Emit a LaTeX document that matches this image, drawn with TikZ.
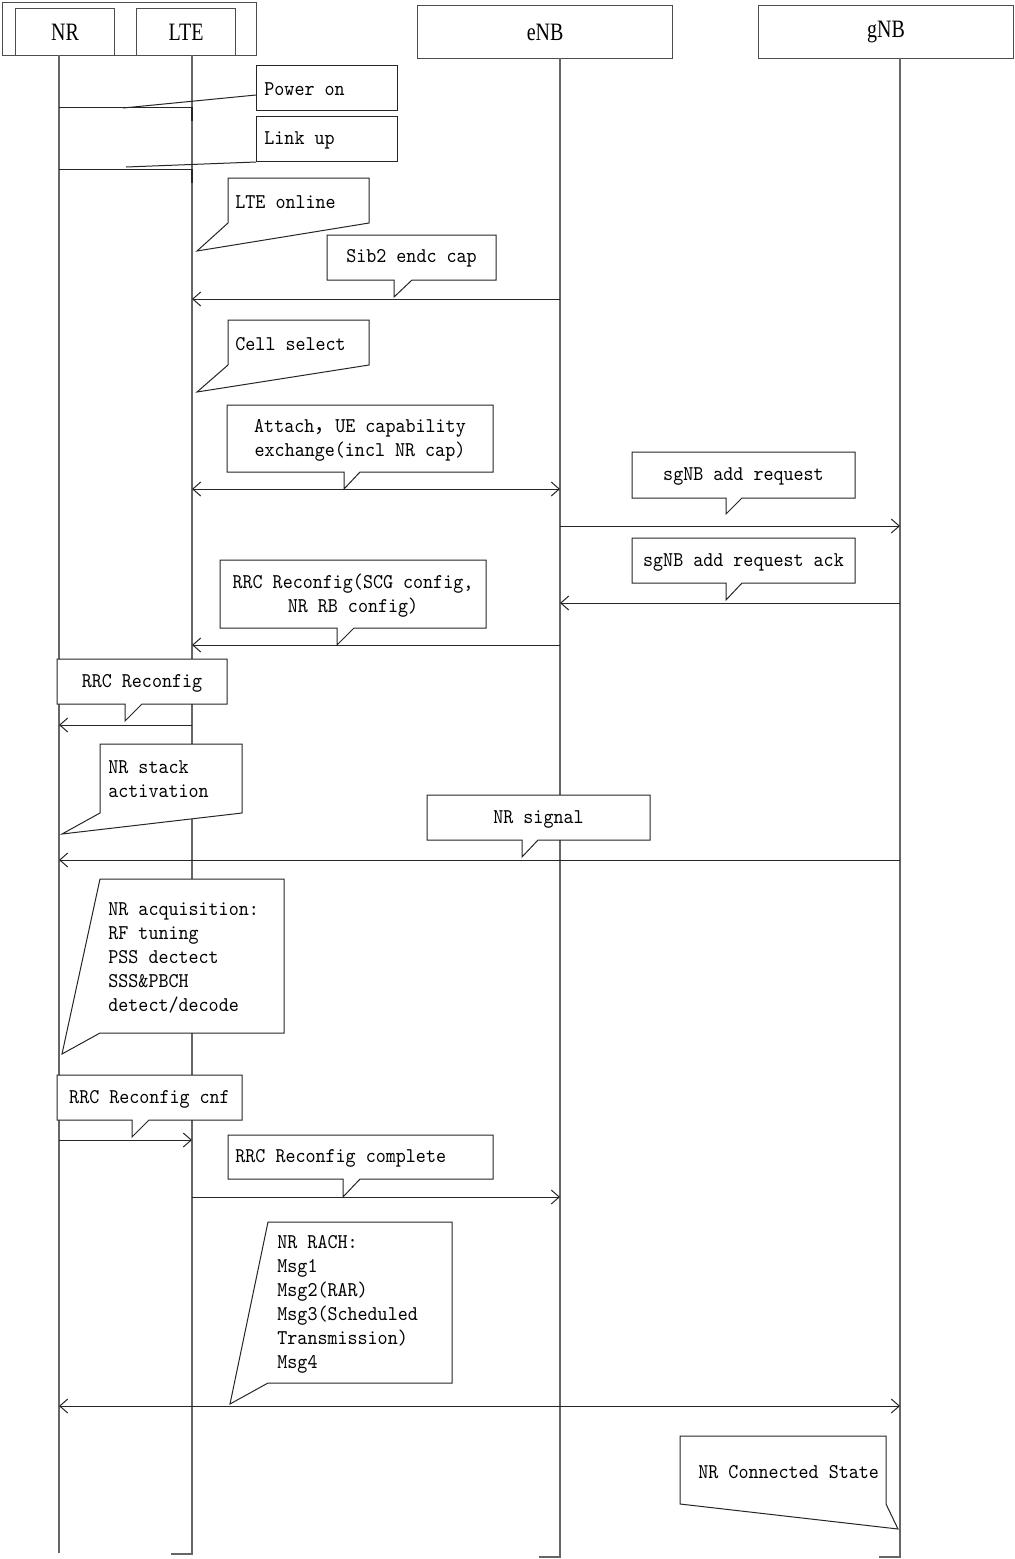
\documentclass[tikz,border=0pt]{standalone}
\usepackage{fontspec}
\usetikzlibrary{arrows.meta}
\newfontfamily\notefont{lmmono10-regular.otf}[FakeStretch=0.91]
\newfontfamily\hdrfont{Liberation Serif}[FakeStretch=0.8]
\newfontfamily\cjk{Noto Sans CJK SC}
\tikzset{
  life/.style={draw=black!60, line width=0.75pt},
  msg/.style={draw=black!85, line width=0.5pt},
  arr/.style={msg, -{Straight Barb[length=4pt,width=7pt]}},
  darr/.style={msg, {Straight Barb[length=4pt,width=7pt]}-{Straight Barb[length=4pt,width=7pt]}},
  call/.style={draw=black!85, fill=white, line width=0.5pt, line join=miter},
  rbox/.style={draw=black!85, fill=white, line width=0.5pt, inner sep=0pt, anchor=north west},
  txt/.style={font=\notefont\fontsize{10.5}{12}\selectfont, inner sep=0pt, text=black, yshift=-0.8pt},
  hdr/.style={draw=black!70, line width=0.6pt, inner sep=0pt, anchor=north west,
    font=\hdrfont\fontsize{12.5}{14}\selectfont}
}
\begin{document}
\begin{tikzpicture}[x=0.5pt,y=-0.5pt]
\useasboundingbox (0,0) rectangle (1014,1559);
% headers
\node[hdr, minimum width=127pt, minimum height=26.5pt] (grp) at (2,2) {};
\node[hdr, minimum width=49.5pt, minimum height=23.5pt] (hNR) at (15,8) {NR};
\node[hdr, minimum width=49.5pt, minimum height=23.5pt] (hLTE) at (136,8) {LTE};
\node[hdr, minimum width=127.5pt, minimum height=26.5pt] (heNB) at (417,5) {eNB};
\node[hdr, minimum width=127.5pt, minimum height=26.5pt] (hgNB) at (758,5) {gNB};
% lifelines
\coordinate (tNR) at (59,55);   \coordinate (bNR) at (59,1553);
\coordinate (tLTE) at (192,55); \coordinate (bLTE) at (192,1554);
\coordinate (teNB) at (560,58); \coordinate (beNB) at (560,1557);
\coordinate (tgNB) at (900,58); \coordinate (bgNB) at (900,1557);
\draw[life] (tNR) -- (bNR);
\draw[life] (tLTE) -- (bLTE) -- ++(-21,0);
\draw[life] (teNB) -- (beNB) -- ++(-21,0);
\draw[life] (tgNB) -- (bgNB) -- ++(-21,0);

% Power on / Link up
\draw[msg] (tNR |- 0,107) -- (tLTE |- 0,107);
\draw[draw=black!85, line width=0.9pt] (tLTE |- 0,107) -- (tLTE |- 0,121);
\node[rbox, minimum width=70.5pt, minimum height=22.5pt] (pwr) at (256,65) {};
\node[txt, anchor=west] (pwrT) at (264,88) {Power on};
\coordinate (pwrE) at (123,108);
\draw[msg] ([yshift=-3.5pt]pwr.west) -- (pwrE);

\draw[msg] (tNR |- 0,169) -- (tLTE |- 0,169);
\draw[draw=black!85, line width=0.9pt] (tLTE |- 0,169) -- (tLTE |- 0,183);
\node[rbox, minimum width=70.5pt, minimum height=22.5pt] (lnk) at (256,116) {};
\node[txt, anchor=west] (lnkT) at (264,139) {Link up};
\coordinate (lnkE) at (126,167);
\draw[msg] (lnk.south west) -- (lnkE);

% LTE online
\draw[call] (228,178) -- (369,178) -- (369,223) -- (197,251) -- (228,223) -- cycle;
\node[txt, anchor=west] (lteon) at (235,201) {LTE online};

% Sib2
\draw[call] (327,235) -- (496,235) -- (496,280) -- (412,280) -- (394,297) -- (394,280) -- (327,280) -- cycle;
\node[txt] (sib) at (411.5,257) {Sib2 endc cap};
\draw[arr] (teNB |- 0,299) -- (tLTE |- 0,299);

% Cell select
\draw[call] (228,320) -- (369,320) -- (369,365) -- (197,392) -- (228,365) -- cycle;
\node[txt, anchor=west] (cell) at (235,342) {Cell select};

% Attach
\draw[call] (227,405) -- (493,405) -- (493,472) -- (360,472) -- (344,489) -- (344,472) -- (227,472) -- cycle;
\node[txt, align=center] (att) at (360,438.5) {Attach{\cjk ，}UE capability\\exchange(incl NR cap)};
\draw[darr] (tLTE |- 0,489) -- (teNB |- 0,489);

% sgNB add request
\draw[call] (632,452) -- (855,452) -- (855,498) -- (742,498) -- (726,514) -- (726,498) -- (632,498) -- cycle;
\node[txt] (sgr) at (743.5,475) {sgNB add request};
\draw[arr] (teNB |- 0,526) -- (tgNB |- 0,526);

% sgNB add request ack
\draw[call] (632,538) -- (855,538) -- (855,583) -- (742,583) -- (726,600) -- (726,583) -- (632,583) -- cycle;
\node[txt] (sga) at (743.5,561) {sgNB add request ack};
\draw[arr] (tgNB |- 0,603) -- (teNB |- 0,603);

% RRC Reconfig (SCG)
\draw[call] (220,560) -- (486,560) -- (486,628) -- (354,628) -- (337,645) -- (337,628) -- (220,628) -- cycle;
\node[txt, align=center] (rrc1) at (353,594) {RRC Reconfig(SCG config,\\NR RB config)};
\draw[arr] (teNB |- 0,645) -- (tLTE |- 0,645);

% RRC Reconfig
\draw[call] (57,659) -- (227,659) -- (227,704) -- (142,704) -- (125,721) -- (125,704) -- (57,704) -- cycle;
\node[txt] (rrc2) at (142,682) {RRC Reconfig};
\draw[arr] (tLTE |- 0,725) -- (tNR |- 0,725);

% NR stack activation
\draw[call] (100,744) -- (242,744) -- (242,813) -- (62,834) -- (100,813) -- cycle;
\node[txt, anchor=west, align=left] (stk) at (108,778) {NR stack\\activation};

% NR signal
\draw[call] (427,795) -- (650,795) -- (650,840) -- (538,840) -- (522,857) -- (522,840) -- (427,840) -- cycle;
\node[txt] (sig) at (538.5,818) {NR signal};
\draw[arr] (tgNB |- 0,860) -- (tNR |- 0,860);

% NR acquisition
\draw[call] (100,879) -- (284,879) -- (284,1033) -- (100,1033) -- (62,1054) -- cycle;
\node[txt, anchor=west, align=left] (acq) at (108,956) {NR acquisition:\\RF tuning\\PSS dectect\\SSS\&PBCH\\detect/decode};

% RRC Reconfig cnf
\draw[call] (57,1075) -- (242,1075) -- (242,1120) -- (149,1120) -- (132,1137) -- (132,1120) -- (57,1120) -- cycle;
\node[txt] (cnf) at (149.5,1098) {RRC Reconfig cnf};
\draw[arr] (tNR |- 0,1140) -- (tLTE |- 0,1140);

% RRC Reconfig complete
\draw[call] (228,1135) -- (493,1135) -- (493,1179) -- (360,1179) -- (343,1197) -- (343,1179) -- (228,1179) -- cycle;
\node[txt, anchor=west] (cmp) at (235,1157) {RRC Reconfig complete};
\draw[arr] (tLTE |- 0,1197) -- (teNB |- 0,1197);

% NR RACH
\draw[call] (268,1222) -- (452,1222) -- (452,1383) -- (268,1383) -- (230,1404) -- cycle;
\node[txt, anchor=west, align=left] (rach) at (277,1302.5) {NR RACH:\\Msg1\\Msg2(RAR)\\Msg3(Scheduled\\Transmission)\\Msg4};
\draw[darr] (tNR |- 0,1406) -- (tgNB |- 0,1406);

% NR Connected State
\draw[call] (680,1436) -- (886,1436) -- (886,1504) -- (898,1529) -- (680,1504) -- cycle;
\node[txt, anchor=west] (conn) at (698,1470) {NR Connected State};
\end{tikzpicture}
\end{document}
